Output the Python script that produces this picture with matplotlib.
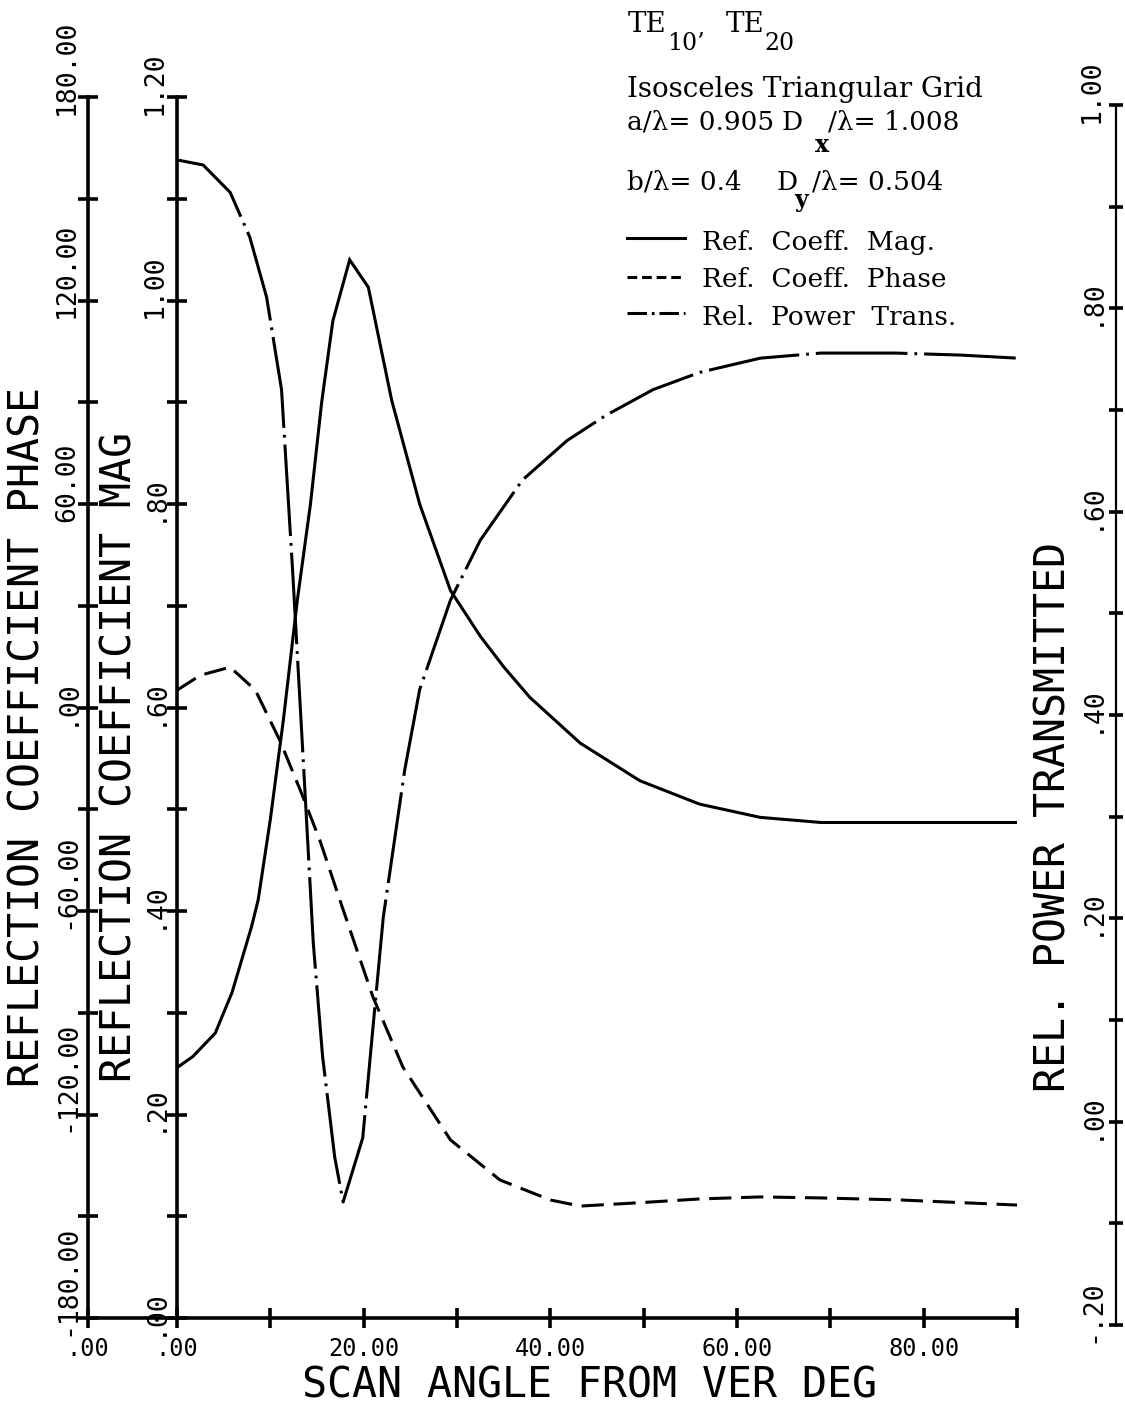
import matplotlib
matplotlib.use("Agg")
import matplotlib.pyplot as plt
from matplotlib.lines import Line2D
from matplotlib.ticker import FixedLocator, NullFormatter
from matplotlib.transforms import blended_transform_factory, offset_copy

# ---------- данные ----------
mag_x = [0, 1.7, 4.1, 5.9, 8.0, 8.7, 10.0, 11.4, 12.9, 14.3, 15.5, 16.7, 18.5, 20.5,
         23.0, 26.0, 29.3, 32.5, 35.0, 37.8, 43.2, 49.6, 56.0, 62.5, 69.0, 80.0, 90.0]
mag_y = [0.246, 0.257, 0.280, 0.320, 0.385, 0.411, 0.49, 0.588, 0.706, 0.80, 0.90, 0.98,
         1.04, 1.013, 0.902, 0.80, 0.715, 0.67, 0.64, 0.61, 0.565, 0.528, 0.505, 0.492,
         0.487, 0.487, 0.487]

phase_x = [0, 2.5, 5.7, 8.4, 11.0, 13.2, 15.3, 17.7, 21.0, 24.2, 29.3, 34.6, 40.0,
           43.2, 49.6, 56.0, 62.5, 69.0, 77.5, 90.0]
phase_y = [5.1, 9.5, 11.9, 5.1, -9.6, -24.3, -39.1, -58.8, -85.4, -106.0, -127.5,
           -139.3, -145.2, -147.0, -146.0, -144.9, -144.3, -144.6, -145.2, -146.7]

power_x = [0, 2.8, 5.7, 7.8, 9.6, 11.2, 12.4, 13.5, 14.6, 15.6, 16.9, 17.8, 19.9,
           21.0, 22.1, 24.4, 26.0, 29.3, 32.5, 37.0, 41.8, 46.0, 51.0, 56.0, 62.5,
           69.0, 77.0, 84.0, 90.0]
power_y = [0.946, 0.941, 0.914, 0.870, 0.811, 0.720, 0.54, 0.36, 0.176, 0.064, -0.035,
           -0.079, -0.016, 0.093, 0.201, 0.346, 0.425, 0.513, 0.572, 0.631, 0.670,
           0.695, 0.720, 0.737, 0.751, 0.756, 0.756, 0.754, 0.751]

x_ticks = [0, 10, 20, 30, 40, 50, 60, 70, 80, 90]
mag_ticks = [0, 0.1, 0.2, 0.3, 0.4, 0.5, 0.6, 0.7, 0.8, 0.9, 1.0, 1.1, 1.2]
phase_ticks = [-180, -150, -120, -90, -60, -30, 0, 30, 60, 90, 120, 150, 180]
power_ticks = [-0.2, -0.1, 0.0, 0.1, 0.2, 0.3, 0.4, 0.5, 0.6, 0.7, 0.8, 0.9, 1.0]

legend_labels = ["Ref.  Coeff.  Mag.", "Ref.  Coeff.  Phase", "Rel.  Power  Trans."]
# ----------------------------------------------

MONO = "DejaVu Sans Mono"
SERIF = "DejaVu Serif"
plt.rcParams["lines.scale_dashes"] = False

LW = 2.2      # линии кривых
SLW = 2.6     # оси
YTICK_FS = 19
XTICK_FS = 17

W, H = 1125, 1412
fig = plt.figure(figsize=(W / 100, H / 100), dpi=100)


def fx(px):
    return px / W


def fy(py):
    return 1 - py / H


def px_box(x0, y_top, x1, y_bot):
    return [fx(x0), fy(y_bot), (x1 - x0) / W, (y_bot - y_top) / H]


def fmt(v):
    s = f"{abs(v):.2f}"
    if s.startswith("0."):
        s = s[1:]
    return ("-" if v < 0 else "") + s


def prep_axis(a, length):
    for s in a.spines.values():
        s.set_linewidth(SLW)
    a.tick_params(direction="inout", length=length, width=SLW)
    a.xaxis.set_major_formatter(NullFormatter())
    a.yaxis.set_major_formatter(NullFormatter())


def y_labels(a, ticks, x_center_px):
    # повёрнутые подписи: начало текста на 18 px ниже деления
    tr = blended_transform_factory(fig.transFigure, a.transData)
    tr = offset_copy(tr, fig=fig, y=-18, units="dots")
    for i, t in enumerate(ticks):
        if i % 2 == 0:
            a.text(fx(x_center_px), t, fmt(t), transform=tr, rotation=90,
                   ha="center", va="bottom", fontsize=YTICK_FS, family=MONO,
                   clip_on=False)


def x_labels(a, ticks, y_center_px):
    tr = blended_transform_factory(a.transData, fig.transFigure)
    for i, t in enumerate(ticks):
        if i % 2 == 0:
            a.text(t, fy(y_center_px), fmt(t), transform=tr, ha="center",
                   va="center", fontsize=XTICK_FS, family=MONO, clip_on=False)


main_box = px_box(177, 97, 1017, 1318)
power_box = px_box(177, 105, 1017, 1325)

# ось фазы (слева)
ax_pf = fig.add_axes(px_box(88, 97, 177, 1318))
ax_pf.patch.set_visible(False)
ax_pf.spines["top"].set_visible(False)
ax_pf.spines["right"].set_visible(False)
ax_pf.set_xlim(0, 1)
ax_pf.set_ylim(-180, 180)
ax_pf.xaxis.set_major_locator(FixedLocator([0]))
ax_pf.yaxis.set_major_locator(FixedLocator(phase_ticks))
prep_axis(ax_pf, 14)
y_labels(ax_pf, phase_ticks, 67)
x_labels(ax_pf, [0], 1349)

# основная ось (модуль)
ax = fig.add_axes(main_box)
ax.patch.set_visible(False)
ax.spines["top"].set_visible(False)
ax.spines["right"].set_visible(False)
ax.set_xlim(0, 90)
ax.set_ylim(0, 1.2)
ax.xaxis.set_major_locator(FixedLocator(x_ticks))
ax.yaxis.set_major_locator(FixedLocator(mag_ticks))
prep_axis(ax, 14)
y_labels(ax, mag_ticks, 155)
x_labels(ax, x_ticks, 1349)

ax.plot(mag_x, mag_y, color="black", lw=LW, solid_joinstyle="miter")

# фаза и мощность — на отдельных невидимых осях с той же шкалой X
ax_ph = fig.add_axes(main_box)
ax_ph.set_axis_off()
ax_ph.set_xlim(0, 90)
ax_ph.set_ylim(-180, 180)
ax_ph.plot(phase_x, phase_y, color="black", lw=LW, dashes=(16, 7))

ax_pw = fig.add_axes(power_box)
ax_pw.set_axis_off()
ax_pw.set_xlim(0, 90)
ax_pw.set_ylim(-0.2, 1.0)
ax_pw.plot(power_x, power_y, color="black", lw=LW, dashes=(66, 5, 2, 5))

# правая ось (мощность)
ax_r = fig.add_axes(px_box(1116, 105, 1125, 1325))
ax_r.patch.set_visible(False)
for side in ("top", "right", "bottom"):
    ax_r.spines[side].set_visible(False)
ax_r.set_xticks([])
ax_r.set_ylim(-0.2, 1.0)
ax_r.yaxis.set_major_locator(FixedLocator(power_ticks))
prep_axis(ax_r, 9.5)
ax_r.spines["left"].set_linewidth(1.6)
y_labels(ax_r, power_ticks, 1092)

# подписи осей
fig.text(fx(28), fy(737), "REFLECTION COEFFICIENT PHASE", rotation=90,
         ha="center", va="center", fontsize=30, family=MONO)
fig.text(fx(120), fy(757), "REFLECTION COEFFICIENT MAG", rotation=90,
         ha="center", va="center", fontsize=30, family=MONO)
fig.text(fx(1054), fy(817), "REL. POWER TRANSMITTED", rotation=90,
         ha="center", va="center", fontsize=30, family=MONO)
fig.text(fx(590), fy(1386), "SCAN ANGLE FROM VER DEG",
         ha="center", va="center", fontsize=30, family=MONO)

# текстовый блок справа вверху
FS = 19
SUB = 17


def t(xp, yp, s, size=FS, **kw):
    fig.text(fx(xp), fy(yp), s, fontsize=size, family=SERIF, va="baseline", **kw)


t(628, 32, "TE", 20)
t(667, 50, "10’", SUB)
t(726, 32, "TE", 20)
t(764, 50, "20", SUB)
t(627, 97, "Isosceles Triangular Grid", 20)
t(627, 130, "a/λ= 0.905")
t(782, 130, "D")
t(815, 152, "x", SUB, weight="bold")
t(828, 130, "/λ= 1.008")
t(627, 190, "b/λ= 0.4")
t(777, 190, "D")
t(794, 207, "y", SUB, weight="bold")
t(812, 190, "/λ= 0.504")

# легенда: образцы линий и подписи
legend_styles = [dict(), dict(dashes=(7, 3.5)), dict(dashes=(14, 3.5, 2, 3.5))]
legend_rows = [(238, 250), (277, 287), (313, 325)]
for style, (y_line, y_text), label in zip(legend_styles, legend_rows, legend_labels):
    fig.add_artist(Line2D([fx(627), fx(685)], [fy(y_line), fy(y_line)],
                          transform=fig.transFigure, color="black", lw=LW, **style))
    t(702, y_text, label)

fig.savefig("out.png", dpi=100)
